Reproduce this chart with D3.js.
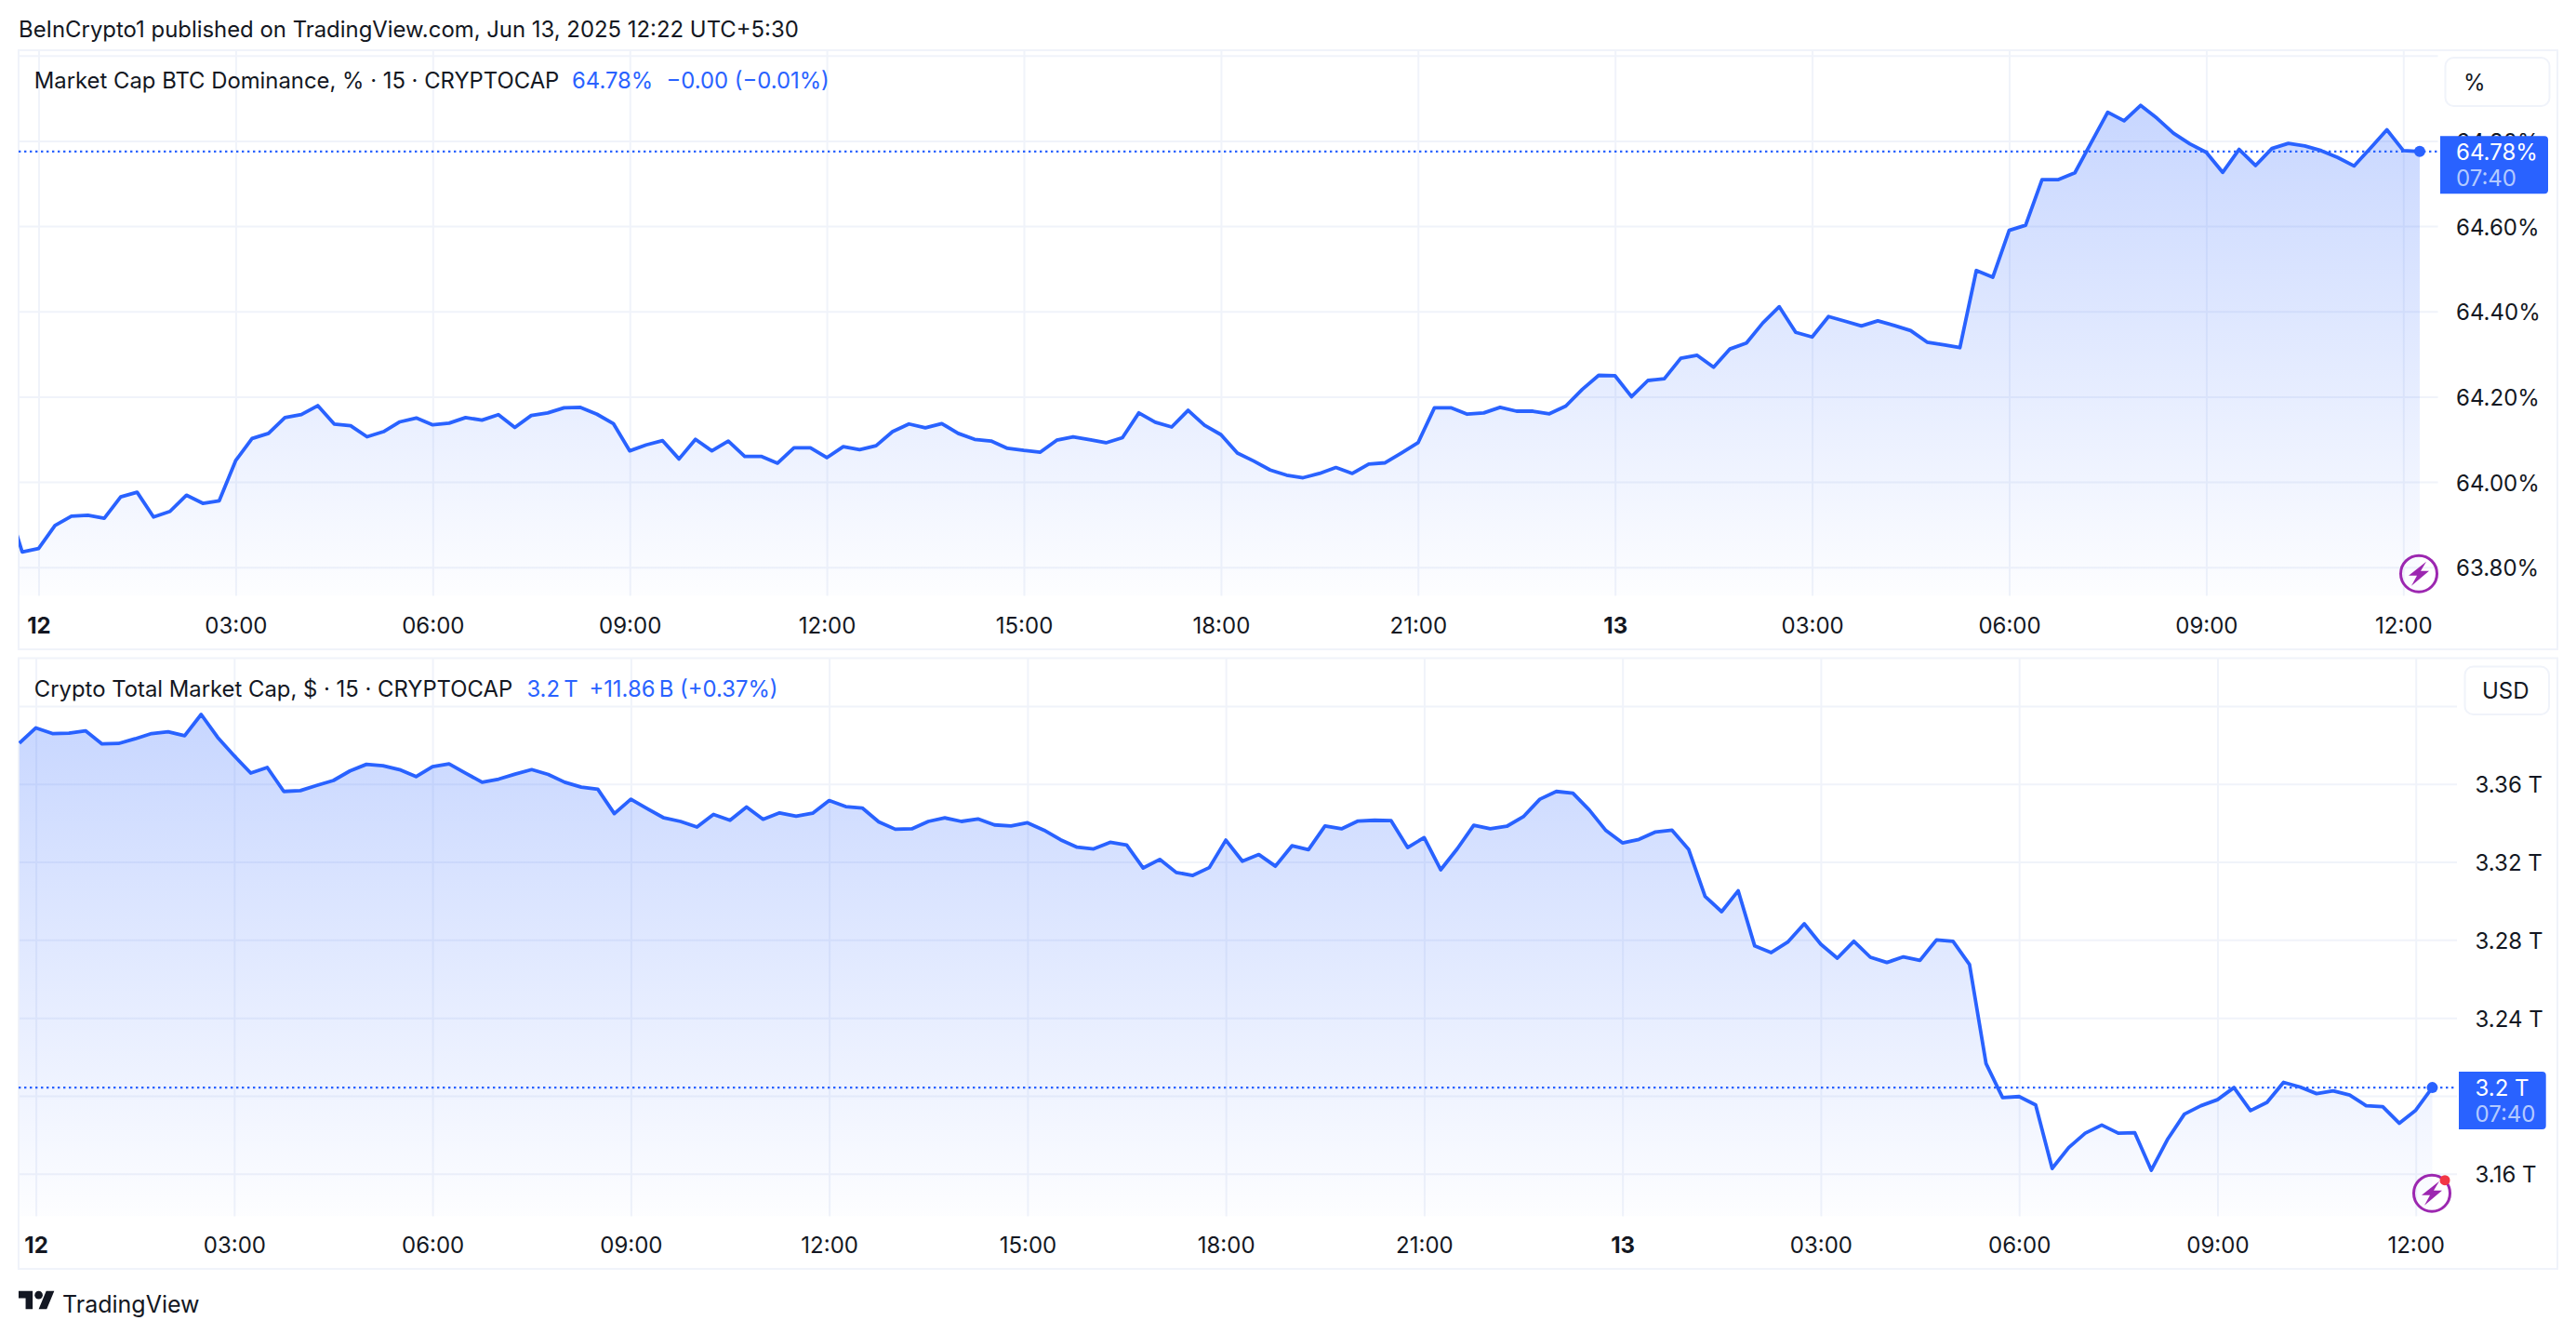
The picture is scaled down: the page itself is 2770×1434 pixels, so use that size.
<!DOCTYPE html>
<html>
<head>
<meta charset="utf-8">
<title>BTC Dominance and Total Market Cap</title>
<script src="https://cdn.jsdelivr.net/npm/d3@7/dist/d3.min.js"></script>
<style>
  html, body { margin: 0; padding: 0; background: #fff; }
  svg { display: block; }
  text { font-family: Inter, "Noto Sans", sans-serif; fill: #131722; }
  .axis path.domain { display: none; }
  .axis text { font-size: 24px; }
  .grid path.domain { display: none; }
  .grid line { stroke: #f0f3fa; stroke-width: 2; }
</style>
</head>
<body>
<svg id="chart" width="2770" height="1434"></svg>
<script>
// values every 15 minutes; the first two belong to the previous day
const dominanceValues = [
  63.960, 63.836,
  63.844, 63.898, 63.920, 63.922, 63.915, 63.965, 63.976, 63.918, 63.931, 63.969, 63.950, 63.956,
  64.050, 64.102, 64.114, 64.151, 64.158, 64.179, 64.136, 64.132, 64.106, 64.118, 64.141, 64.150,
  64.134, 64.138, 64.151, 64.145, 64.158, 64.128, 64.156, 64.162, 64.174, 64.175, 64.159, 64.137,
  64.073, 64.087, 64.097, 64.054, 64.100, 64.073, 64.096, 64.060, 64.060, 64.044, 64.080, 64.080,
  64.057, 64.083, 64.076, 64.085, 64.118, 64.136, 64.127, 64.137, 64.114, 64.100, 64.096, 64.079,
  64.074, 64.070, 64.098, 64.106, 64.099, 64.092, 64.104, 64.162, 64.140, 64.129, 64.168, 64.133,
  64.111, 64.068, 64.049, 64.028, 64.016, 64.010, 64.020, 64.034, 64.020, 64.042, 64.045, 64.068,
  64.092, 64.174, 64.174, 64.159, 64.162, 64.175, 64.166, 64.166, 64.160, 64.178, 64.217, 64.250,
  64.249, 64.200, 64.238, 64.242, 64.290, 64.297, 64.269, 64.312, 64.326, 64.373, 64.411, 64.351,
  64.340, 64.388, 64.377, 64.366, 64.378, 64.367, 64.355, 64.328, 64.322, 64.315, 64.496, 64.480,
  64.590, 64.602, 64.709, 64.709, 64.725, 64.796, 64.867, 64.847, 64.883, 64.853, 64.818, 64.793,
  64.773, 64.726, 64.780, 64.742, 64.782, 64.794, 64.788, 64.777, 64.761, 64.741, 64.783, 64.826,
  64.777, 64.775
];
const totalCapValues = [
  3.3810,
  3.3888, 3.3859, 3.3861, 3.3873, 3.3806, 3.3808, 3.3832, 3.3859, 3.3868, 3.3848, 3.3957, 3.3839,
  3.3745, 3.3656, 3.3685, 3.3562, 3.3566, 3.3593, 3.3618, 3.3667, 3.3701, 3.3694, 3.3674, 3.3638,
  3.3689, 3.3703, 3.3656, 3.3609, 3.3625, 3.3651, 3.3674, 3.3649, 3.3609, 3.3584, 3.3573, 3.3448,
  3.3522, 3.3473, 3.3426, 3.3408, 3.3379, 3.3444, 3.3414, 3.3482, 3.3419, 3.3452, 3.3435, 3.3450,
  3.3515, 3.3484, 3.3477, 3.3406, 3.3368, 3.3370, 3.3408, 3.3426, 3.3408, 3.3421, 3.3390, 3.3385,
  3.3401, 3.3363, 3.3314, 3.3276, 3.3267, 3.3301, 3.3287, 3.3169, 3.3213, 3.3146, 3.3131, 3.3171,
  3.3312, 3.3204, 3.3238, 3.3178, 3.3283, 3.3263, 3.3385, 3.3370, 3.3410, 3.3414, 3.3412, 3.3274,
  3.3325, 3.3160, 3.3267, 3.3388, 3.3370, 3.3383, 3.3432, 3.3522, 3.3562, 3.3553, 3.3466, 3.3361,
  3.3298, 3.3316, 3.3354, 3.3363, 3.3265, 3.3023, 3.2945, 3.3052, 3.2769, 3.2735, 3.2789, 3.2883,
  3.2778, 3.2706, 3.2793, 3.2711, 3.2684, 3.2713, 3.2695, 3.2800, 3.2793, 3.2673, 3.2165, 3.1991,
  3.1996, 3.1953, 3.1627, 3.1734, 3.1808, 3.1850, 3.1808, 3.1810, 3.1618, 3.1779, 3.1906, 3.1949,
  3.1980, 3.2042, 3.1924, 3.1966, 3.2069, 3.2045, 3.2011, 3.2025, 3.2004, 3.1949, 3.1944, 3.1859,
  3.1926, 3.2042
];
const timeTickLabels = ["12", "03:00", "06:00", "09:00", "12:00", "15:00", "18:00", "21:00", "13", "03:00", "06:00", "09:00", "12:00"];
const dominanceTicks = [63.8, 64.0, 64.2, 64.4, 64.6, 64.8, 65.0];
const totalCapTicks = [3.16, 3.20, 3.24, 3.28, 3.32, 3.36, 3.40];
const barsPerTick = 12;

const BLUE = "#2962ff";
const TEXT_DY = "0.38em";
const LEGEND_SIZE = 23.85;
const svg = d3.select("#chart");
const defs = svg.append("defs");

svg.append("text").attr("x", 20).attr("y", 40).attr("font-size", 23.9)
  .text("BeInCrypto1 published on TradingView.com, Jun 13, 2025 12:22 UTC+5:30");

function drawPanel(cfg) {
  const g = svg.append("g");

  g.append("rect")
    .attr("x", 20).attr("y", cfg.top).attr("width", 2730).attr("height", cfg.bottom - cfg.top)
    .attr("fill", "none").attr("stroke", "#f0f3fa").attr("stroke-width", 2);

  const x = d3.scaleLinear().domain([0, 144]).range(cfg.xRange);
  const y = d3.scaleLinear().domain(cfg.yDomain).range(cfg.yRange);
  const tickBars = cfg.timeLabels.map((d, i) => i * barsPerTick);
  // first values sit left of the "12" tick
  const points = cfg.values.map((v, i) => ({ bar: i - cfg.leadBars, v: v }));
  const last = points[points.length - 1];

  // grid
  g.append("g").attr("class", "grid")
    .attr("transform", `translate(0,${cfg.plotBottom})`)
    .call(d3.axisBottom(x).tickValues(tickBars).tickSize(cfg.top - cfg.plotBottom).tickFormat(""));
  g.append("g").attr("class", "grid")
    .attr("transform", "translate(20,0)")
    .call(d3.axisRight(y).tickValues(cfg.ticks).tickSize(cfg.plotRight - 20).tickFormat(""));

  // gradient runs from the highest point of the line to the bottom of the plot
  const gradId = cfg.id + "-fill";
  const grad = defs.append("linearGradient").attr("id", gradId)
    .attr("gradientUnits", "userSpaceOnUse")
    .attr("x1", 0).attr("x2", 0)
    .attr("y1", y(d3.max(cfg.values))).attr("y2", cfg.plotBottom);
  grad.append("stop").attr("offset", 0).attr("stop-color", BLUE).attr("stop-opacity", 0.26);
  grad.append("stop").attr("offset", 1).attr("stop-color", BLUE).attr("stop-opacity", 0.01);

  const clipId = cfg.id + "-clip";
  defs.append("clipPath").attr("id", clipId).append("rect")
    .attr("x", 20).attr("y", cfg.top).attr("width", cfg.plotRight - 20).attr("height", cfg.plotBottom - cfg.top);

  const plot = g.append("g").attr("clip-path", `url(#${clipId})`);
  plot.append("path").datum(points)
    .attr("fill", `url(#${gradId})`)
    .attr("d", d3.area().x(d => x(d.bar)).y0(cfg.plotBottom).y1(d => y(d.v)));

  // dotted last value line
  plot.append("line")
    .attr("x1", 20).attr("x2", cfg.plotRight)
    .attr("y1", y(last.v)).attr("y2", y(last.v))
    .attr("stroke", BLUE).attr("stroke-width", 2.4).attr("stroke-dasharray", "2.4 3.6");

  plot.append("path").datum(points)
    .attr("fill", "none").attr("stroke", BLUE).attr("stroke-width", 3.8).attr("stroke-linejoin", "round")
    .attr("d", d3.line().x(d => x(d.bar)).y(d => y(d.v)));

  g.append("circle").attr("cx", x(last.bar)).attr("cy", y(last.v)).attr("r", 6).attr("fill", BLUE);

  // axes
  const timeAxis = g.append("g").attr("class", "axis")
    .attr("transform", `translate(0,${cfg.timeAxisY})`)
    .call(d3.axisBottom(x).tickValues(tickBars).tickSize(0).tickPadding(0)
      .tickFormat((d, i) => cfg.timeLabels[i]));
  timeAxis.selectAll("text")
    .attr("dy", TEXT_DY).attr("y", 0).attr("fill", "#131722")
    .attr("font-weight", (d, i) => cfg.timeLabels[i].length < 3 ? 700 : 400);

  // the badge covers the label of its own level, so that one is left out
  const priceAxis = g.append("g").attr("class", "axis")
    .attr("transform", `translate(${cfg.labelX},0)`)
    .call(d3.axisRight(y).tickValues(cfg.ticks.filter(t => t !== cfg.yDomain[1] && t !== cfg.hiddenTick))
      .tickSize(0).tickPadding(0).tickFormat(cfg.priceFormat));
  priceAxis.selectAll("text").attr("dy", TEXT_DY).attr("fill", "#131722");

  // unit box
  g.append("rect")
    .attr("x", cfg.unitBox[0]).attr("y", cfg.unitBox[1]).attr("width", cfg.unitBox[2]).attr("height", cfg.unitBox[3])
    .attr("rx", 9).attr("fill", "#fff").attr("stroke", "#f0f3fa").attr("stroke-width", 2);
  g.append("text")
    .attr("x", cfg.unitTextX).attr("y", cfg.unitBox[1] + cfg.unitBox[3] / 2).attr("dy", TEXT_DY)
    .attr("font-size", 24).text(cfg.unit);

  // last price badge
  const bx = cfg.badge[0], by = y(last.v) - cfg.badge[2], bw = cfg.badge[1], bh = 62;
  g.append("path").attr("fill", BLUE)
    .attr("d", `M${bx},${by}H${bx + bw - 4}a4,4 0 0 1 4,4V${by + bh - 4}a4,4 0 0 1 -4,4H${bx}Z`);
  g.append("text").attr("x", cfg.labelX).attr("y", y(last.v)).attr("dy", TEXT_DY)
    .attr("font-size", 24).style("fill", "#fff").text(cfg.lastLabel);
  g.append("text").attr("x", cfg.labelX).attr("y", y(last.v) + 28).attr("dy", TEXT_DY)
    .attr("font-size", 24).style("fill", "#b4caff").text(cfg.countdown);

  // legend
  g.append("text").attr("x", 36.8).attr("y", cfg.legendY).attr("dy", TEXT_DY).attr("font-size", LEGEND_SIZE).text(cfg.title);
  g.append("text").attr("x", cfg.legendX[0]).attr("y", cfg.legendY).attr("dy", TEXT_DY).attr("font-size", LEGEND_SIZE)
    .style("fill", BLUE).text(cfg.legendValue);
  g.append("text").attr("x", cfg.legendX[1]).attr("y", cfg.legendY).attr("dy", TEXT_DY).attr("font-size", LEGEND_SIZE)
    .style("fill", BLUE).text(cfg.change);

  // lightning icon
  const icon = g.append("g").attr("transform", `translate(${cfg.icon[0]},${cfg.icon[1]})`);
  icon.append("circle").attr("r", 19.5).attr("fill", "none").attr("stroke", "#9c27b0").attr("stroke-width", 3);
  icon.append("path").attr("fill", "#9c27b0").attr("d", "M8,-13L-11,2H-2L-8,13L11,-3H2Z");
  if (cfg.alert) {
    icon.append("circle").attr("cx", 14).attr("cy", -14).attr("r", 5.5).attr("fill", "#f23645");
  }
}

drawPanel({
  id: "dominance", values: dominanceValues, leadBars: 2, ticks: dominanceTicks, timeLabels: timeTickLabels,
  top: 54, bottom: 698, plotBottom: 640.6, plotRight: 2621.5, timeAxisY: 672, labelX: 2641,
  xRange: [41.5, 2584.3], yDomain: [63.8, 65.0], yRange: [609.8, 59.7],
  priceFormat: d => d.toFixed(2) + "%",
  unit: "%", unitBox: [2629.5, 62, 112, 52], unitTextX: 2649,
  badge: [2624, 116, 16.7], lastLabel: "64.78%", countdown: "07:40",
  legendY: 85.9, legendX: [615, 716.5], legendValue: "64.78%",
  title: "Market Cap BTC Dominance, % · 15 · CRYPTOCAP", change: "−0.00 (−0.01%)",
  icon: [2601, 616.7], alert: false
});

drawPanel({
  id: "totalcap", values: totalCapValues, leadBars: 1, ticks: totalCapTicks, timeLabels: timeTickLabels,
  top: 707.5, bottom: 1364, plotBottom: 1307.6, plotRight: 2642, timeAxisY: 1337.6, labelX: 2661.5,
  xRange: [38.6, 2597.7], yDomain: [3.16, 3.40], yRange: [1261.7, 759], hiddenTick: 3.20,
  priceFormat: d => d.toFixed(2) + " T",
  unit: "USD", unitBox: [2650.5, 716.5, 90.5, 51.5], unitTextX: 2669,
  badge: [2644, 93.7, 17], lastLabel: "3.2 T", countdown: "07:40",
  legendY: 739.8, legendX: [566.4, 633.4], legendValue: "3.2\u2009T",
  title: "Crypto Total Market Cap, $ · 15 · CRYPTOCAP", change: "+11.86\u2009B (+0.37%)",
  icon: [2615, 1282.7], alert: true
});

// footer logo
const logo = svg.append("g").attr("transform", "translate(20,1383.5) scale(1.08)").attr("fill", "#131722");
logo.append("path").attr("d", "M14 22H7V11H0V4h14v18zM28 22h-8l7.5-18h8L28 22z");
logo.append("circle").attr("cx", 20).attr("cy", 8).attr("r", 4);
svg.append("text").attr("x", 67).attr("y", 1401).attr("dy", TEXT_DY).attr("font-size", 25).text("TradingView");
</script>
</body>
</html>
